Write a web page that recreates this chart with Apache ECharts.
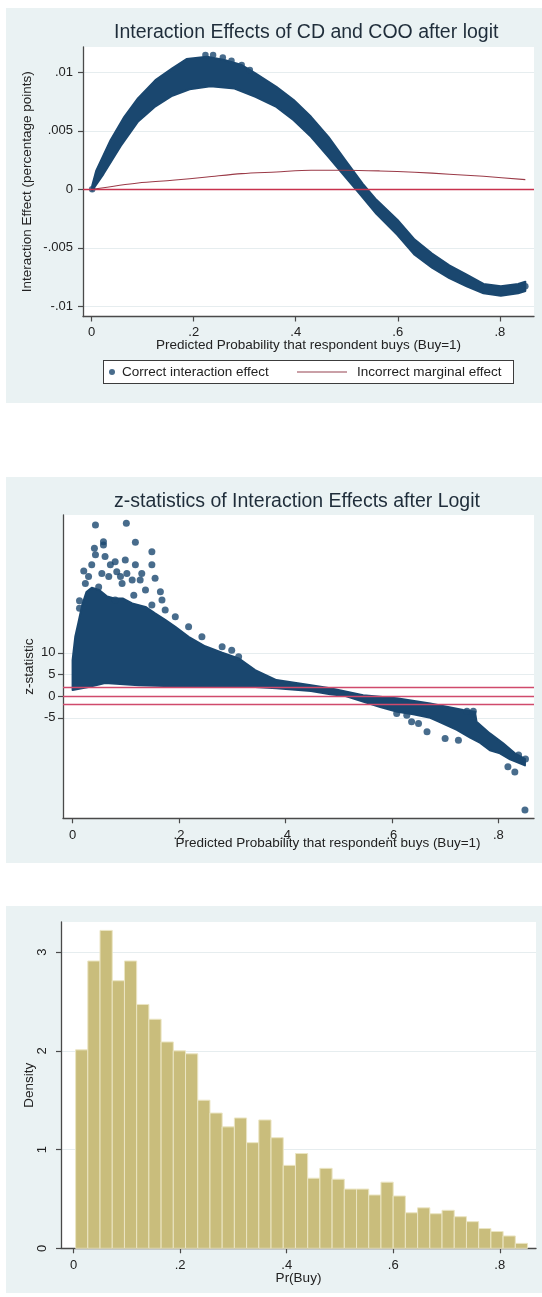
<!DOCTYPE html>
<html><head><meta charset="utf-8">
<script src="https://cdn.jsdelivr.net/npm/echarts@6/dist/echarts.min.js"></script>
<style>
html,body{margin:0;padding:0;background:#fff;width:542px;height:1297px;overflow:hidden;}
.panel{position:absolute;background:#eaf2f3;}
#legbox{position:absolute;left:103px;top:360px;width:409px;height:22px;background:#fff;border:1.4px solid #3c3c3c;}
#chart{position:absolute;left:0;top:0;width:542px;height:1297px;}
</style></head><body>
<div class="panel" style="left:6px;top:8px;width:536px;height:395px"></div>
<div class="panel" style="left:6px;top:477px;width:536px;height:386px"></div>
<div class="panel" style="left:6px;top:906px;width:536px;height:387px"></div>
<div id="legbox"></div>
<div id="chart"></div>
<script>
// ---------- data ----------
const xTicks = [0, 0.2, 0.4, 0.6, 0.8];
const ieTicks = [-0.01, -0.005, 0, 0.005, 0.01];
const zTicks = [-5, 0, 5, 10];
const densTicks = [0, 1, 2, 3];

// top chart: envelope of the dense scatter cloud of correct interaction effects
const ieUpper = [[0.001,0.0003],[0.009,0.0016],[0.037,0.0042],[0.064,0.0062],[0.091,0.0078],[0.125,0.00934],[0.158,0.01034],[0.186,0.01114],[0.226,0.01134],[0.260,0.01106],[0.294,0.01063],[0.321,0.00991],[0.362,0.00877],[0.396,0.00763],[0.430,0.00620],[0.464,0.00449],[0.497,0.00249],[0.531,0.00049],[0.558,-0.0009],[0.599,-0.0026],[0.633,-0.0043],[0.667,-0.0055],[0.701,-0.0065],[0.735,-0.0073],[0.768,-0.0081],[0.802,-0.0083],[0.836,-0.0081],[0.850,-0.0079]];
const ieLower = [[0.001,-0.0001],[0.023,0.0013],[0.057,0.0037],[0.091,0.0058],[0.125,0.0071],[0.158,0.0080],[0.192,0.00855],[0.233,0.00882],[0.280,0.00862],[0.321,0.00791],[0.362,0.00705],[0.396,0.00591],[0.430,0.00449],[0.464,0.00277],[0.497,0.00106],[0.525,-0.00037],[0.558,-0.0021],[0.599,-0.0039],[0.633,-0.0056],[0.667,-0.0067],[0.701,-0.0076],[0.735,-0.0083],[0.768,-0.0089],[0.802,-0.0091],[0.836,-0.0089],[0.850,-0.0087]];
const ieDots = [[0.001,0.0],[0.223,0.01148],[0.238,0.01148],[0.257,0.01128],[0.274,0.01099],[0.294,0.01063],[0.310,0.01020],[0.850,-0.0083],[0.842,-0.0084]];
const marginal = [[0.001,0.0],[0.091,0.00054],[0.158,0.00077],[0.226,0.00105],[0.294,0.00134],[0.362,0.00148],[0.430,0.00163],[0.497,0.00163],[0.565,0.00157],[0.633,0.00146],[0.701,0.00129],[0.768,0.00111],[0.850,0.00083]];
const ieRefLines = [0];

// middle chart: z-statistics cloud envelope and scattered points
const zUpper = [[0.0,1.4],[0.0,8.3],[0.005,13.7],[0.011,17],[0.018,21],[0.026,24],[0.036,25],[0.05,24.5],[0.065,23],[0.08,22.5],[0.095,22.5],[0.112,21.4],[0.137,20.6],[0.155,19.1],[0.174,17.6],[0.193,16.0],[0.218,13.7],[0.249,11.5],[0.281,10.0],[0.312,8.7],[0.343,6.0],[0.383,3.7],[0.448,2.5],[0.484,1.8],[0.546,0.2],[0.609,-0.5],[0.672,-1.7],[0.734,-3.2],[0.756,-3.6],[0.759,-5.9],[0.784,-8.6],[0.809,-10.9],[0.831,-13.2],[0.85,-14.5]];
const zLower = [[0.0,1.4],[0.030,2.1],[0.061,3.0],[0.124,2.5],[0.187,2.3],[0.249,2.1],[0.343,2.1],[0.383,1.8],[0.448,1.2],[0.484,0.4],[0.513,0.0],[0.547,-1.3],[0.578,-2.5],[0.61,-3.6],[0.64,-4.2],[0.672,-5.0],[0.69,-6.0],[0.722,-7.8],[0.747,-9.6],[0.766,-10.8],[0.784,-12.5],[0.803,-13.2],[0.822,-14.6],[0.85,-16.0]];
const zDots = [[0.043,39.5],[0.101,39.9],[0.058,35.6],[0.058,34.9],[0.118,35.5],[0.041,34.1],[0.149,33.3],[0.043,32.6],[0.061,32.2],[0.021,28.9],[0.080,31.0],[0.099,31.4],[0.149,30.3],[0.083,28.7],[0.102,28.3],[0.118,30.3],[0.155,27.2],[0.127,26.8],[0.137,24.5],[0.165,24.1],[0.168,22.2],[0.115,23.3],[0.013,22.0],[0.013,20.3],[0.149,21.0],[0.281,11.4],[0.299,10.6],[0.312,9.1],[0.030,27.6],[0.049,25.2],[0.068,27.6],[0.093,26.0],[0.112,26.8],[0.080,22.2],[0.036,30.3],[0.071,30.3],[0.090,27.6],[0.055,28.3],[0.024,26.0],[0.130,28.3],[0.174,19.9],[0.193,18.3],[0.218,16.0],[0.243,13.7],[0.637,-5.9],[0.650,-6.3],[0.666,-8.2],[0.700,-9.8],[0.725,-10.2],[0.741,-3.5],[0.753,-3.5],[0.609,-4.0],[0.628,-4.4],[0.818,-16.3],[0.831,-17.5],[0.851,-14.5],[0.838,-13.6],[0.850,-26.3]];
const zRefLines = [1.96, 0, -1.96];

// bottom chart: histogram densities of Pr(Buy)
const binStart = 0.0037;
const binWidth = 0.02293;
const densities = [2.01,2.91,3.22,2.71,2.91,2.47,2.32,2.09,2.00,1.97,1.50,1.37,1.23,1.32,1.07,1.30,1.12,0.84,0.96,0.71,0.81,0.70,0.60,0.60,0.54,0.67,0.53,0.36,0.41,0.35,0.385,0.32,0.27,0.20,0.17,0.125,0.05];

// ---------- styling ----------
const F = "'Liberation Sans', Arial, sans-serif";
const NAVY = '#1a476f';
const AX = '#4a4a4a';
const TXT = '#222';
const GRID = '#e6edef';

const fmt = v => {
  if (Math.abs(v) < 1e-12) return '0';
  return String(+v.toFixed(4)).replace(/^(-?)0\./, '$1.');
};

function xAxisOpt(gi, min, max, name, nameGap, margin, pad) {
  return {
    type: 'value', gridIndex: gi, min, max, name, nameLocation: 'middle', nameGap, nameMoveOverlap: false,
    nameTextStyle: {fontFamily: F, fontSize: 13.5, color: TXT, padding: pad || 0},
    axisLine: {show: true, onZero: false, lineStyle: {color: AX, width: 1.3}},
    axisTick: {show: true, length: 5, customValues: xTicks, lineStyle: {color: AX, width: 1.2}},
    axisLabel: {customValues: xTicks, formatter: fmt, margin, fontFamily: F, fontSize: 13, color: TXT},
    splitLine: {show: false}
  };
}
function yAxisOpt(gi, min, max, ticks, name, nameGap, margin, rotate) {
  return {
    type: 'value', gridIndex: gi, min, max, name, nameLocation: 'middle', nameGap, nameMoveOverlap: false,
    nameTextStyle: {fontFamily: F, fontSize: 13.5, color: TXT},
    axisLine: {show: true, onZero: false, lineStyle: {color: AX, width: 1.3}},
    axisTick: {show: true, length: 5, customValues: ticks, lineStyle: {color: AX, width: 1.2}},
    axisLabel: {customValues: ticks, formatter: fmt, margin, rotate: rotate || 0, fontFamily: F, fontSize: 13, color: TXT},
    splitLine: {show: true, lineStyle: {color: GRID, width: 1}}
  };
}
function band(xi, upper, lower) {
  const poly = upper.concat(lower.slice().reverse());
  return {
    type: 'custom', xAxisIndex: xi, yAxisIndex: xi, data: poly, encode: {x: 0, y: 1},
    silent: true, z: 2,
    renderItem: (params, api) => {
      if (params.dataIndex !== 0) return null;
      const pts = poly.map(p => api.coord(p));
      return {type: 'polygon', shape: {points: pts},
        style: {fill: NAVY, stroke: NAVY, lineWidth: 2, lineJoin: 'round'}};
    }
  };
}
function refLines(vals, color) {
  return {
    silent: true, symbol: ['none', 'none'], label: {show: false},
    lineStyle: {type: 'solid', color, width: 1.3},
    data: vals.map(v => ({yAxis: v}))
  };
}

const histData = densities.map((d, i) => [binStart + i * binWidth, binStart + (i + 1) * binWidth, d]);

const chart = echarts.init(document.getElementById('chart'), null, {renderer: 'canvas'});
chart.setOption({
  animation: false,
  backgroundColor: 'transparent',
  title: [
    {text: 'Interaction Effects of CD and COO after logit', left: 114, top: 23, padding: 0,
     textStyle: {fontFamily: F, fontSize: 19.5, fontWeight: 'normal', color: '#1f2d3a'}},
    {text: 'z-statistics of Interaction Effects after Logit', left: 114, top: 492, padding: 0,
     textStyle: {fontFamily: F, fontSize: 19.5, fontWeight: 'normal', color: '#1f2d3a'}}
  ],
  legend: [
    {data: ['Correct interaction effect'], left: 109, top: 365, padding: 0, icon: 'circle',
     itemWidth: 6, itemHeight: 6, selectedMode: false,
     itemStyle: {color: NAVY},
     textStyle: {fontFamily: F, fontSize: 13.5, color: TXT, padding: [0, 0, 0, 2]}},
    {data: ['Incorrect marginal effect'], left: 297, top: 365, padding: 0,
     icon: 'path://M0 0H50V1.5H0Z', itemWidth: 50, itemHeight: 1.5, selectedMode: false,
     itemStyle: {color: '#b8808a', borderWidth: 0},
     textStyle: {fontFamily: F, fontSize: 13.5, color: TXT, padding: [0, 0, 0, 5]}}
  ],
  grid: [
    {left: 83, top: 47, width: 451, height: 269.5, show: true, backgroundColor: '#fff', borderWidth: 0},
    {left: 63, top: 515, width: 471, height: 303.3, show: true, backgroundColor: '#fff', borderWidth: 0},
    {left: 61, top: 922, width: 475, height: 326.3, show: true, backgroundColor: '#fff', borderWidth: 0}
  ],
  xAxis: [
    xAxisOpt(0, -0.017, 0.867, 'Predicted Probability that respondent buys (Buy=1)', 21.5, 9),
    xAxisOpt(1, -0.018, 0.867, 'Predicted Probability that respondent buys (Buy=1)', 17.5, 11, [0, 0, 0, 59]),
    xAxisOpt(2, -0.0237, 0.868, 'Pr(Buy)', 23, 11)
  ],
  yAxis: [
    yAxisOpt(0, -0.01088, 0.01217, ieTicks, 'Interaction Effect (percentage points)', 49, 10),
    yAxisOpt(1, -28.2, 41.8, zTicks, 'z-statistic', 27, 7.5),
    yAxisOpt(2, 0, 3.305, densTicks, 'Density', 24.5, 12, 90)
  ],
  series: [
    band(0, ieUpper, ieLower),
    {type: 'line', name: 'Incorrect marginal effect', xAxisIndex: 0, yAxisIndex: 0, data: marginal,
     smooth: 0.3, symbol: 'none', itemStyle: {color: '#9b3b48'}, lineStyle: {color: '#9b3b48', width: 1.1}, z: 3, silent: true},
    {type: 'scatter', name: 'Correct interaction effect', xAxisIndex: 0, yAxisIndex: 0, data: ieDots,
     symbol: 'circle', symbolSize: 6.5, itemStyle: {color: NAVY}, z: 4, silent: true,
     markLine: refLines(ieRefLines, '#c8324e')},
    band(1, zUpper, zLower),
    {type: 'scatter', name: 'z', xAxisIndex: 1, yAxisIndex: 1, data: zDots,
     symbol: 'circle', symbolSize: 7, itemStyle: {color: NAVY}, z: 4, silent: true,
     markLine: refLines(zRefLines, '#d04a6c')},
    {type: 'custom', name: 'hist', xAxisIndex: 2, yAxisIndex: 2, data: histData, encode: {x: [0, 1], y: 2},
     silent: true,
     renderItem: (params, api) => {
       const a = api.coord([api.value(0), api.value(2)]);
       const b = api.coord([api.value(1), 0]);
       return {type: 'rect', shape: {x: a[0], y: a[1], width: b[0] - a[0], height: b[1] - a[1]},
         style: {fill: '#c9bd7c', stroke: '#ebe5c3', lineWidth: 1}};
     }}
  ]
});
</script>
</body></html>
